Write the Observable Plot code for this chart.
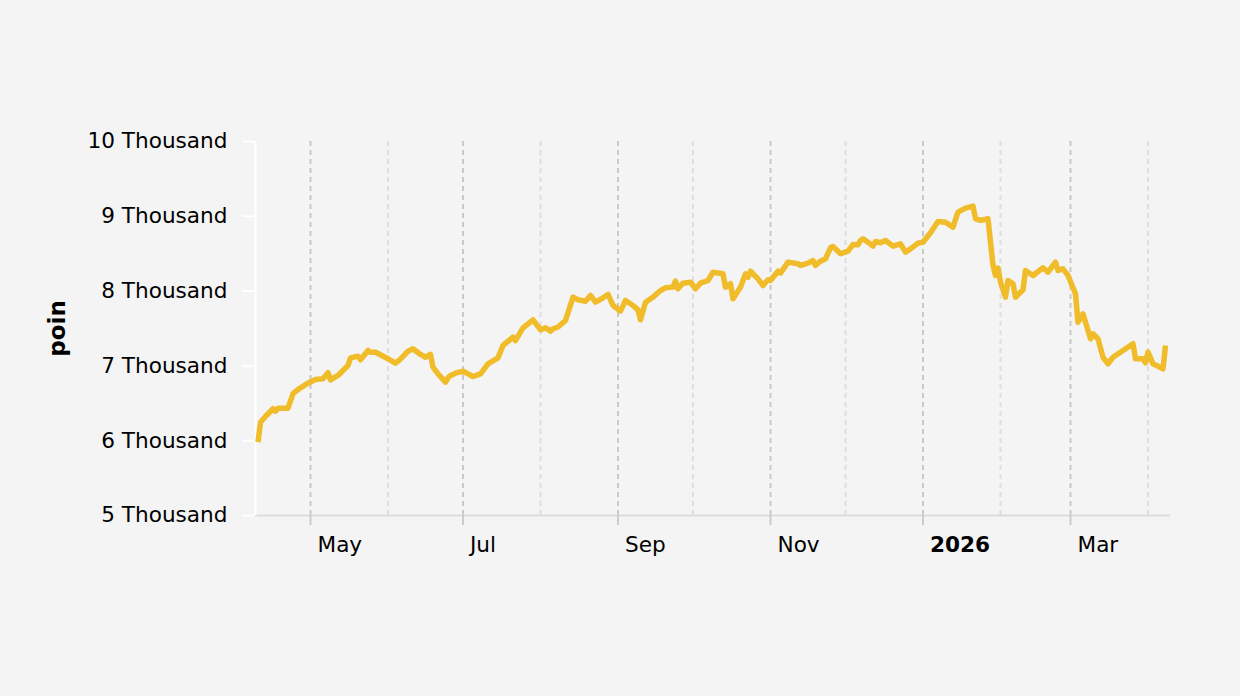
<!DOCTYPE html>
<html><head><meta charset="utf-8">
<script src="https://cdn.jsdelivr.net/npm/d3@7"></script>
<script src="https://cdn.jsdelivr.net/npm/@observablehq/plot@0.6"></script>
<style>html,body{margin:0;padding:0;background:#f4f4f4;}</style>
</head><body><div id="chart"></div>
<script>
const dates = [
"2025-04-10","2025-04-11","2025-04-13","2025-04-16","2025-04-17","2025-04-18","2025-04-22","2025-04-24","2025-04-25","2025-04-27","2025-04-30",
"2025-05-03","2025-05-06","2025-05-08","2025-05-09","2025-05-12","2025-05-16","2025-05-17","2025-05-20","2025-05-21","2025-05-24","2025-05-25","2025-05-27",
"2025-06-01","2025-06-04","2025-06-06","2025-06-09","2025-06-11","2025-06-14","2025-06-16","2025-06-18","2025-06-19","2025-06-21","2025-06-24","2025-06-25","2025-06-26","2025-06-28",
"2025-07-01","2025-07-03","2025-07-05","2025-07-08","2025-07-11","2025-07-15","2025-07-17","2025-07-21","2025-07-22","2025-07-25","2025-07-27","2025-07-29",
"2025-08-01","2025-08-03","2025-08-05","2025-08-06","2025-08-08","2025-08-11","2025-08-14","2025-08-16","2025-08-19","2025-08-21","2025-08-23","2025-08-26","2025-08-28","2025-08-30",
"2025-09-02","2025-09-04","2025-09-07","2025-09-09","2025-09-10","2025-09-12","2025-09-15","2025-09-18","2025-09-20","2025-09-23","2025-09-24","2025-09-25","2025-09-27","2025-09-30",
"2025-10-02","2025-10-04","2025-10-07","2025-10-09","2025-10-13","2025-10-14","2025-10-16","2025-10-17","2025-10-20","2025-10-22","2025-10-23","2025-10-24","2025-10-27","2025-10-29","2025-10-31",
"2025-11-01","2025-11-04","2025-11-05","2025-11-08","2025-11-12","2025-11-13","2025-11-16","2025-11-18","2025-11-19","2025-11-21","2025-11-23","2025-11-25","2025-11-26","2025-11-29",
"2025-12-02","2025-12-04","2025-12-06","2025-12-07","2025-12-08","2025-12-10","2025-12-12","2025-12-13","2025-12-15","2025-12-17","2025-12-20","2025-12-23","2025-12-25","2025-12-27","2025-12-30",
"2026-01-01","2026-01-04","2026-01-07","2026-01-10","2026-01-13","2026-01-15","2026-01-18","2026-01-21","2026-01-22","2026-01-24","2026-01-27","2026-01-29","2026-01-30","2026-01-31",
"2026-02-01","2026-02-03","2026-02-04","2026-02-06","2026-02-07","2026-02-10","2026-02-11","2026-02-14","2026-02-18","2026-02-20","2026-02-23","2026-02-24","2026-02-26","2026-02-28",
"2026-03-03","2026-03-04","2026-03-06","2026-03-09","2026-03-10","2026-03-12","2026-03-14","2026-03-16","2026-03-18","2026-03-26","2026-03-27","2026-03-30","2026-03-31",
"2026-04-01","2026-04-03","2026-04-07","2026-04-08"
];
const values = [
5980,6247,6324,6427,6395,6435,6435,6627,6658,6707,6769,
6818,6828,6908,6814,6872,7006,7108,7130,7082,7206,7183,7183,
7095,7036,7090,7197,7229,7153,7116,7153,6983,6894,6782,6841,6872,6903,
6929,6894,6858,6894,7028,7108,7273,7384,7340,7509,7563,7616,
7483,7509,7465,7496,7520,7607,7919,7884,7865,7941,7852,7911,7955,7808,
7732,7875,7808,7750,7616,7852,7919,8008,8044,8053,8133,8031,8106,8119,
8031,8106,8142,8253,8232,8053,8098,7897,8053,8232,8186,8266,8164,8075,8151,
8142,8266,8240,8387,8365,8343,8374,8409,8343,8400,8432,8579,8596,8499,
8534,8623,8619,8677,8699,8654,8601,8663,8646,8677,8601,8632,8521,8565,8641,
8654,8780,8931,8921,8855,9056,9109,9136,8967,8945,8967,8343,8209,8307,
8119,7919,8142,8098,7919,8017,8276,8209,8312,8253,8387,8276,8298,8209,
7964,7584,7697,7362,7429,7362,7116,7028,7116,7296,7095,7095,7042,
7184,7028,6961,7273
];
const labeledTicks = ["2025-05-01","2025-07-01","2025-09-01","2025-11-01","2026-01-01","2026-03-01"];
const minorTicks = ["2025-06-01","2025-08-01","2025-10-01","2025-12-01","2026-02-01","2026-04-01"];
const monthNames = ["Jan","Feb","Mar","Apr","May","Jun","Jul","Aug","Sep","Oct","Nov","Dec"];
const yTicks = [5000,6000,7000,8000,9000,10000];
const yLabel = "poin";
const xDomain = ["2025-04-09","2026-04-10"];

const data = dates.map((d, i) => ({date: new Date(d), value: values[i]}));
const major = labeledTicks.map(d => new Date(d));
const minor = minorTicks.map(d => new Date(d));
const yearTicks = major.filter(d => d.getUTCMonth() === 0);
const monthTicks = major.filter(d => d.getUTCMonth() !== 0);
const domain = xDomain.map(d => new Date(d));

const chart = Plot.plot({
  width: 1240, height: 696,
  marginLeft: 255, marginRight: 70, marginTop: 141, marginBottom: 181,
  style: {fontFamily: "'DejaVu Sans', Verdana, sans-serif", fontSize: "21.6px", background: "#f4f4f4", color: "#000"},
  x: {type: "utc", domain},
  y: {domain: [yTicks[0], yTicks[yTicks.length - 1]]},
  marks: [
    Plot.gridX(minor, {stroke: "#dedede", strokeOpacity: 1, strokeDasharray: "5,4", strokeWidth: 2}),
    Plot.gridX(major, {stroke: "#c8c8c8", strokeOpacity: 1, strokeDasharray: "5,4", strokeWidth: 2}),
    Plot.ruleY([yTicks[0]], {stroke: "#dcdcdc", strokeWidth: 1.8}),
    Plot.ruleX([domain[0]], {stroke: "#ffffff", strokeWidth: 2}),
    Plot.axisY(yTicks, {tickSize: 13, tickPadding: 15, stroke: "#ffffff", strokeWidth: 1.8, fill: "#000", tickFormat: d => `${d / 1000} Thousand`, label: null}),
    Plot.axisX(major, {tickSize: 10, stroke: "#c8c8c8", strokeWidth: 1.8, fill: "none", label: null}),
    Plot.axisX(monthTicks, {tickSize: 0, tickPadding: 21, fill: "#000", textAnchor: "start", dx: 7, tickFormat: d => monthNames[d.getUTCMonth()], label: null}),
    Plot.axisX(yearTicks, {tickSize: 0, tickPadding: 21, fill: "#000", textAnchor: "start", dx: 7, fontWeight: "bold", tickFormat: d => String(d.getUTCFullYear()), label: null}),
    Plot.lineY(data, {x: "date", y: "value", stroke: "#f0bc2a", strokeWidth: 5.5, strokeLinejoin: "round", strokeLinecap: "butt"}),
    Plot.text([yLabel], {frameAnchor: "left", textAnchor: "middle", dx: -198, rotate: -90, fontWeight: "bold", fontSize: 23, fill: "#000"})
  ]
});
document.getElementById("chart").appendChild(chart);
</script>
</body></html>
